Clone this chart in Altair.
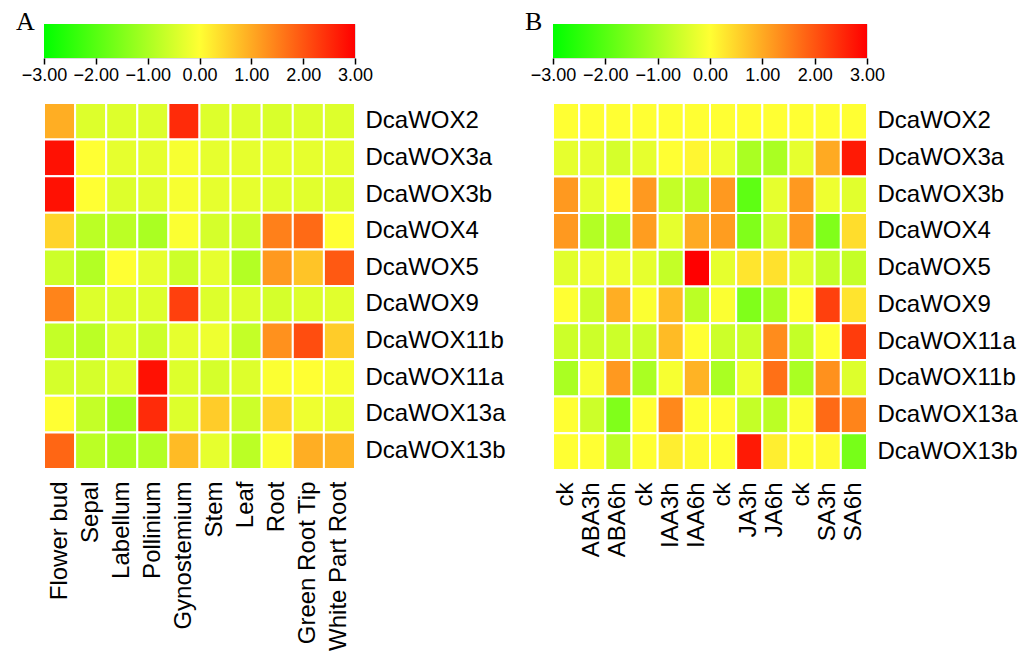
import altair as alt
import pandas as pd

# ---------------- data ----------------
genes_a = ["DcaWOX2", "DcaWOX3a", "DcaWOX3b", "DcaWOX4", "DcaWOX5",
           "DcaWOX9", "DcaWOX11b", "DcaWOX11a", "DcaWOX13a", "DcaWOX13b"]
tissues = ["Flower bud", "Sepal", "Labellum", "Pollinium", "Gynostemium",
           "Stem", "Leaf", "Root", "Green Root Tip", "White Part Root"]
values_a = [
    [0.95, -0.4, -0.4, -0.4, 2.5, -0.4, -0.4, -0.45, -0.4, -0.4],
    [2.8, 0.0, -0.3, -0.3, -0.1, -0.3, -0.3, -0.3, -0.3, -0.3],
    [2.8, 0.0, -0.4, -0.35, -0.1, -0.3, -0.3, -0.35, -0.35, -0.35],
    [0.5, -0.8, -0.8, -1.0, -0.05, -0.5, -0.6, 1.5, 1.75, 0.0],
    [-0.6, -0.9, 0.0, -0.3, -0.6, -0.3, -0.9, 1.2, 0.7, 1.95],
    [1.45, -0.4, -0.4, -0.4, 2.25, -0.4, -0.4, -0.5, -0.4, -0.35],
    [-0.7, -0.8, -0.4, -0.6, -0.3, -0.2, -0.7, 1.3, 2.1, 0.6],
    [-0.5, -0.5, -0.4, 2.8, -0.4, -0.5, -0.4, -0.05, 0.0, -0.1],
    [0.0, -0.7, -1.1, 2.5, -0.4, 0.6, -0.6, 0.5, -0.2, -0.25],
    [1.8, -0.8, -1.0, -0.9, 0.8, -0.3, -0.8, -0.05, 0.95, 0.9],
]

genes_b = ["DcaWOX2", "DcaWOX3a", "DcaWOX3b", "DcaWOX4", "DcaWOX5",
           "DcaWOX9", "DcaWOX11a", "DcaWOX11b", "DcaWOX13a", "DcaWOX13b"]
treatments = ["ck_1", "ABA3h", "ABA6h", "ck_2", "IAA3h", "IAA6h",
              "ck_3", "JA3h", "JA6h", "ck_4", "SA3h", "SA6h"]
values_b = [
    [0.0, 0.0, 0.0, 0.0, 0.0, 0.0, 0.0, 0.0, 0.0, 0.0, 0.0, 0.0],
    [-0.3, -0.3, -0.5, -0.3, 0.0, 0.1, -0.2, -1.0, -1.0, -0.3, 1.0, 2.7],
    [1.2, -0.3, 0.0, 1.2, -0.7, -0.8, 1.2, -1.9, -0.3, 1.2, -0.2, -0.35],
    [1.2, -0.9, -0.9, 1.15, -0.3, 1.0, 1.15, -1.5, -0.6, 1.2, -1.5, 0.4],
    [-0.35, -0.2, -0.2, -0.3, -0.7, 3.0, -0.3, 0.3, 0.35, -0.35, -0.7, -0.7],
    [0.0, -0.6, 0.95, -0.05, 0.8, -0.8, -0.05, -1.5, -1.0, 0.0, 2.25, 0.32],
    [-0.6, -0.6, -0.6, -0.6, 0.8, 0.0, -0.6, -0.6, 1.35, -0.7, 0.0, 2.3],
    [-1.0, -0.1, 1.2, -1.0, -0.1, 0.9, -1.0, -0.2, 1.68, -1.0, 1.3, -0.4],
    [0.0, -0.6, -1.5, 0.0, 1.4, 0.0, 0.0, -0.7, -0.8, -0.05, 1.75, 1.45],
    [0.0, 0.0, -0.8, 0.0, 0.2, 0.05, 0.0, 2.7, 0.2, 0.0, 0.05, -1.6],
]

scale_ticks = [-3, -2, -1, 0, 1, 2, 3]
scale_colors = ["#00ff00", "#ffff33", "#ff0000"]

# ---------------- helpers ----------------
FONT = "Liberation Sans"


def long_df(genes, cols, vals):
    rows = []
    for g, row in zip(genes, vals):
        for c, v in zip(cols, row):
            rows.append({"gene": g, "col": c, "value": v})
    return pd.DataFrame(rows)


color_scale = alt.Scale(domain=[-3, 0, 3], range=scale_colors,
                        interpolate="rgb", clamp=True)


def colorbar(width, letter):
    df = pd.DataFrame({"lo": [scale_ticks[0]], "hi": [scale_ticks[-1]]})
    grad = alt.LinearGradient(
        gradient="linear",
        stops=[alt.GradientStop(color=scale_colors[0], offset=0),
               alt.GradientStop(color=scale_colors[1], offset=0.5),
               alt.GradientStop(color=scale_colors[2], offset=1)],
        x1=0, x2=1, y1=0, y2=0)
    bar = alt.Chart(df).mark_rect(color=grad).encode(
        x=alt.X("lo:Q", scale=alt.Scale(domain=[scale_ticks[0], scale_ticks[-1]], nice=False),
                axis=alt.Axis(values=scale_ticks, format=".2f", title=None,
                              domain=False, grid=False, tickSize=6,
                              tickColor="black", tickWidth=1.5,
                              labelFontSize=18, labelFont=FONT,
                              labelColor="black", labelPadding=2,
                              labelFlush=False, labelOverlap=False)),
        x2="hi:Q",
    )
    txt = alt.Chart(df).mark_text(
        text=letter, font="Liberation Serif", fontSize=26, color="black",
        align="left", baseline="alphabetic").encode(
        x=alt.value(-28), y=alt.value(6))
    return alt.layer(bar, txt).properties(width=width, height=34)


def heatmap(genes, cols, vals, width, height, label_expr=None):
    df = long_df(genes, cols, vals)
    xaxis = dict(orient="bottom", labelAngle=-90, title=None, ticks=False,
                 domain=False, labelFontSize=24, labelFont=FONT,
                 labelColor="black", labelPadding=12, labelLimit=300)
    if label_expr:
        xaxis["labelExpr"] = label_expr
    return alt.Chart(df).mark_rect(stroke="white", strokeWidth=2).encode(
        x=alt.X("col:N", sort=cols, axis=alt.Axis(**xaxis),
                scale=alt.Scale(paddingInner=0, paddingOuter=0)),
        y=alt.Y("gene:N", sort=genes,
                axis=alt.Axis(orient="right", title=None, ticks=False,
                              domain=False, labelFontSize=24, labelFont=FONT,
                              labelColor="black", labelPadding=10,
                              labelLimit=300),
                scale=alt.Scale(paddingInner=0, paddingOuter=0)),
        color=alt.Color("value:Q", scale=color_scale, legend=None),
    ).properties(width=width, height=height)


chart = alt.concat(
    colorbar(311, "A"),
    colorbar(314, "B"),
    heatmap(genes_a, tissues, values_a, 311, 366),
    heatmap(genes_b, treatments, values_b, 314, 367,
            label_expr="split(datum.label, '_')[0]"),
    columns=2,
    spacing={"row": 45, "column": 198},
    bounds="flush",
).properties(
    padding={"left": 7, "top": 0, "right": 5, "bottom": 5}
).configure_view(stroke=None).configure(background="white")

chart.save("out.html", embed_options={"renderer": "svg", "actions": False})
